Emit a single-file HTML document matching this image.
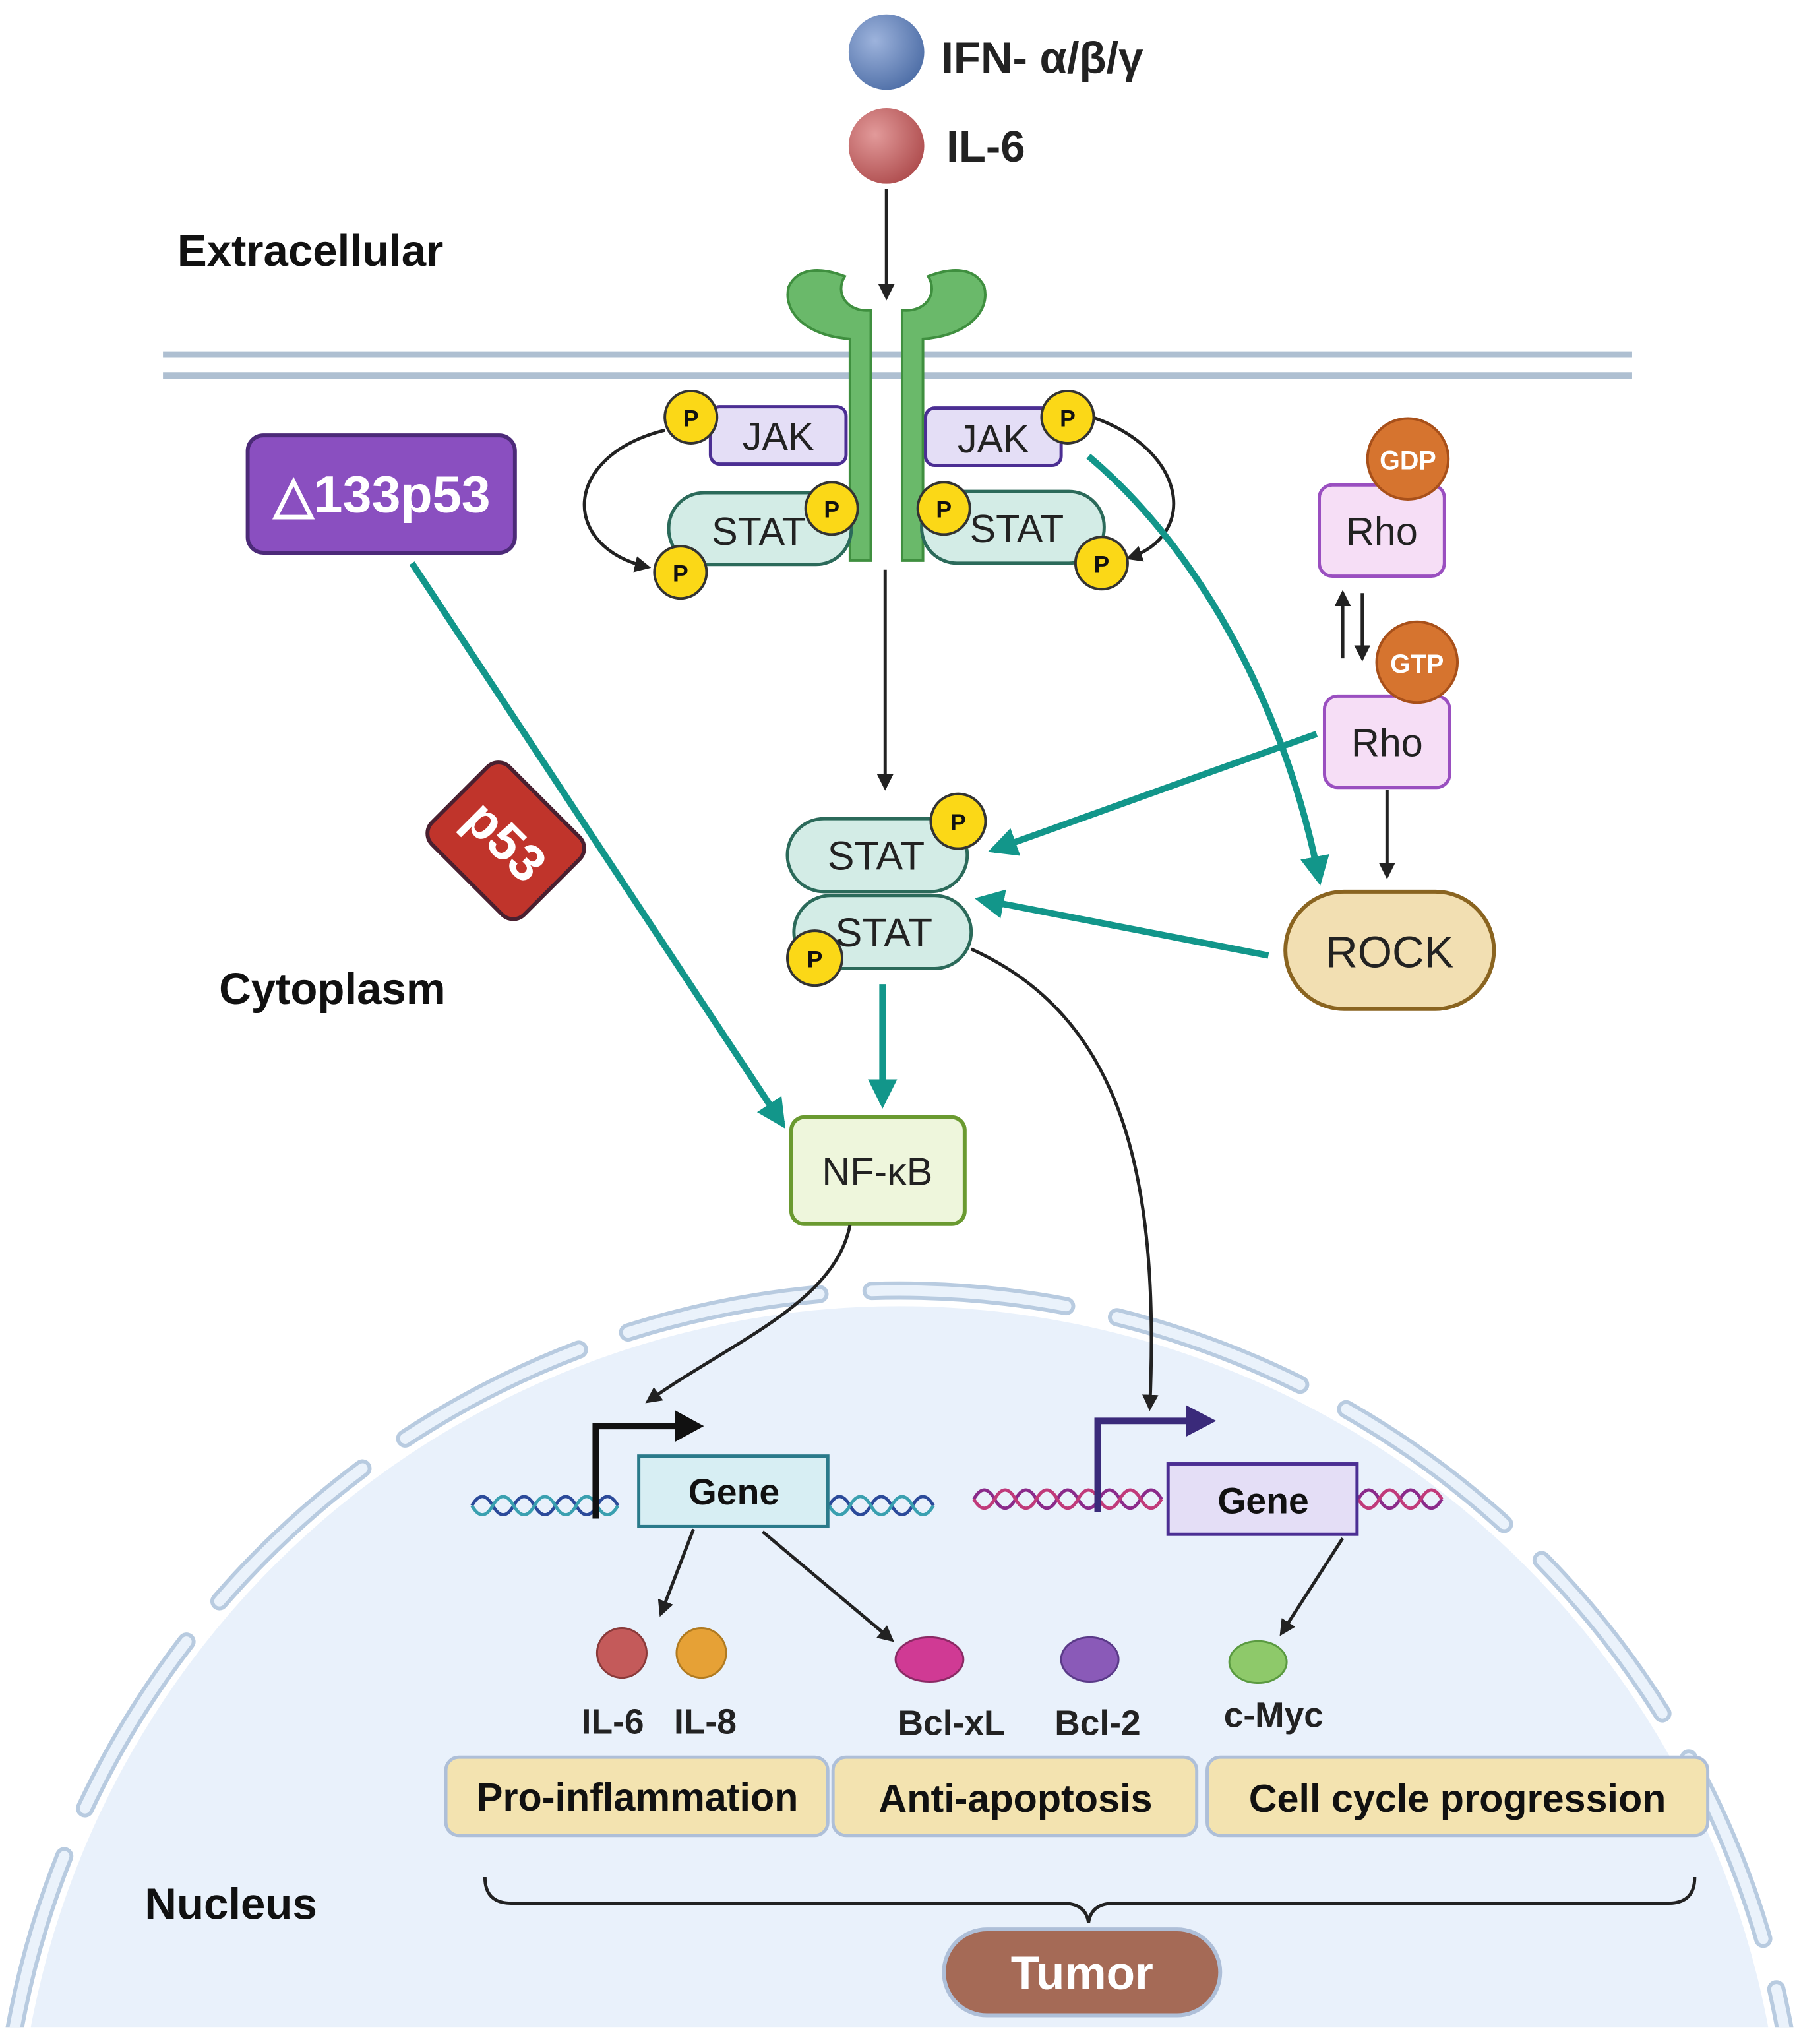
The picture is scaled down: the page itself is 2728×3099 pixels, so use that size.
<!DOCTYPE html>
<html><head><style>html,body{margin:0;padding:0;background:#fff;width:2728px;height:3099px;overflow:hidden}svg{display:block}text{font-family:"Liberation Sans",sans-serif}</style></head>
<body>
<svg width="2728" height="3099" viewBox="0 0 1380 1568" preserveAspectRatio="none" xmlns="http://www.w3.org/2000/svg">
<defs>
<marker id="ab" viewBox="0 0 10 10" refX="8" refY="5" markerWidth="5" markerHeight="5" orient="auto"><path d="M0,0L10,5L0,10z" fill="#222"/></marker>
<marker id="at" viewBox="0 0 10 10" refX="8" refY="5" markerWidth="4.5" markerHeight="4.5" orient="auto"><path d="M0,0L10,5L0,10z" fill="#12968a"/></marker>
<radialGradient id="gb" cx="0.35" cy="0.35" r="0.7"><stop offset="0" stop-color="#9db3dc"/><stop offset="1" stop-color="#5070a8"/></radialGradient>
<radialGradient id="gr" cx="0.35" cy="0.35" r="0.7"><stop offset="0" stop-color="#e29a9a"/><stop offset="1" stop-color="#b04f50"/></radialGradient>
<clipPath id="cp"><rect x="0" y="0" width="1380" height="1555"/></clipPath>
</defs>
<rect width="1380" height="1568" fill="#fff"/>
<g clip-path="url(#cp)">
<circle cx="690" cy="1680" r="678" fill="#e9f1fb"/>
<circle cx="690" cy="1680" r="690" fill="none" stroke="#b8cbe0" stroke-width="14" stroke-dasharray="150 40" stroke-linecap="round"/>
<circle cx="690" cy="1680" r="690" fill="none" stroke="#eaf2fb" stroke-width="8" stroke-dasharray="150 40" stroke-linecap="round"/>
</g>
<line x1="125" y1="272" x2="1252" y2="272" stroke="#aebfd1" stroke-width="5"/>
<line x1="125" y1="288" x2="1252" y2="288" stroke="#aebfd1" stroke-width="5"/>
<circle cx="680" cy="40" r="29" fill="url(#gb)"/>
<circle cx="680" cy="112" r="29" fill="url(#gr)"/>
<text x="722" y="56" font-size="34" font-weight="bold" fill="#222">IFN- α/β/γ</text>
<text x="726" y="124" font-size="34" font-weight="bold" fill="#222">IL-6</text>
<text x="136" y="204" font-size="34" font-weight="bold" fill="#111">Extracellular</text>
<text x="168" y="770" font-size="34" font-weight="bold" fill="#111">Cytoplasm</text>
<text x="111" y="1472" font-size="34" font-weight="bold" fill="#111">Nucleus</text>
<line x1="680" y1="145" x2="680" y2="228" stroke="#222" stroke-width="2.5" marker-end="url(#ab)"/>
<path d="M652,430 V260 C620,258 600,240 605,220 C612,205 630,205 648,212 C640,225 650,240 668,238 V430 Z" fill="#6ab96a" stroke="#3f8f3f" stroke-width="2"/>
<path d="M708,430 V260 C740,258 760,240 755,220 C748,205 730,205 712,212 C720,225 710,240 692,238 V430 Z" fill="#6ab96a" stroke="#3f8f3f" stroke-width="2"/>
<rect x="545" y="312" width="104" height="44" rx="7" fill="#e4def6" stroke="#4b2e93" stroke-width="2.5"/>
<text x="597" y="345" font-size="30" text-anchor="middle" fill="#222">JAK</text>
<rect x="513" y="378" width="140" height="55" rx="27" fill="#d3ece6" stroke="#2b6a5a" stroke-width="2.5"/>
<text x="582" y="418" font-size="30" text-anchor="middle" fill="#222">STAT</text>
<rect x="710" y="313" width="104" height="44" rx="7" fill="#e4def6" stroke="#4b2e93" stroke-width="2.5"/>
<text x="762" y="347" font-size="30" text-anchor="middle" fill="#222">JAK</text>
<rect x="707" y="377" width="140" height="55" rx="27" fill="#d3ece6" stroke="#2b6a5a" stroke-width="2.5"/>
<text x="780" y="416" font-size="30" text-anchor="middle" fill="#222">STAT</text>
<path d="M510,330 C430,350 430,420 497,435" fill="none" stroke="#222" stroke-width="2.5" marker-end="url(#ab)"/>
<path d="M838,320 C910,345 920,410 866,428" fill="none" stroke="#222" stroke-width="2.5" marker-end="url(#ab)"/>
<g font-size="18" font-weight="bold" text-anchor="middle" fill="#111">
<circle cx="530" cy="320" r="20" fill="#fbd817" stroke="#333" stroke-width="2"/><text x="530" y="327">P</text>
<circle cx="638" cy="390" r="20" fill="#fbd817" stroke="#333" stroke-width="2"/><text x="638" y="397">P</text>
<circle cx="522" cy="439" r="20" fill="#fbd817" stroke="#333" stroke-width="2"/><text x="522" y="446">P</text>
<circle cx="819" cy="320" r="20" fill="#fbd817" stroke="#333" stroke-width="2"/><text x="819" y="327">P</text>
<circle cx="724" cy="390" r="20" fill="#fbd817" stroke="#333" stroke-width="2"/><text x="724" y="397">P</text>
<circle cx="845" cy="432" r="20" fill="#fbd817" stroke="#333" stroke-width="2"/><text x="845" y="439">P</text>
</g>
<line x1="679" y1="437" x2="679" y2="604" stroke="#222" stroke-width="2.5" marker-end="url(#ab)"/>
<rect x="190" y="334" width="205" height="90" rx="12" fill="#8a4fc0" stroke="#4c2a78" stroke-width="3"/>
<text x="293" y="393" font-size="40" font-weight="bold" text-anchor="middle" fill="#fff">△133p53</text>
<g transform="translate(388,645) rotate(45)"><rect x="-50" y="-42" width="100" height="84" rx="12" fill="#c0342b" stroke="#4a2030" stroke-width="3"/><text x="0" y="14" font-size="40" font-weight="bold" text-anchor="middle" fill="#fff">p53</text></g>
<rect x="1012" y="372" width="96" height="70" rx="10" fill="#f6def6" stroke="#9a4fc0" stroke-width="2.5"/>
<text x="1060" y="418" font-size="30" text-anchor="middle" fill="#222">Rho</text>
<circle cx="1080" cy="352" r="31" fill="#d6742f" stroke="#a8501a" stroke-width="2"/>
<text x="1080" y="360" font-size="20" font-weight="bold" text-anchor="middle" fill="#fff">GDP</text>
<rect x="1016" y="534" width="96" height="70" rx="10" fill="#f6def6" stroke="#9a4fc0" stroke-width="2.5"/>
<text x="1064" y="580" font-size="30" text-anchor="middle" fill="#222">Rho</text>
<circle cx="1087" cy="508" r="31" fill="#d6742f" stroke="#a8501a" stroke-width="2"/>
<text x="1087" y="516" font-size="20" font-weight="bold" text-anchor="middle" fill="#fff">GTP</text>
<line x1="1030" y1="505" x2="1030" y2="455" stroke="#222" stroke-width="2.5" marker-end="url(#ab)"/>
<line x1="1045" y1="455" x2="1045" y2="505" stroke="#222" stroke-width="2.5" marker-end="url(#ab)"/>
<line x1="1064" y1="606" x2="1064" y2="672" stroke="#222" stroke-width="2.5" marker-end="url(#ab)"/>
<rect x="986" y="684" width="160" height="90" rx="45" fill="#f2dfb2" stroke="#8a6420" stroke-width="3"/>
<text x="1066" y="742" font-size="34" text-anchor="middle" fill="#222">ROCK</text>
<rect x="604" y="628" width="138" height="56" rx="28" fill="#d3ece6" stroke="#2b6a5a" stroke-width="2.5"/>
<text x="672" y="667" font-size="31" text-anchor="middle" fill="#222">STAT</text>
<rect x="609" y="687" width="136" height="56" rx="28" fill="#d3ece6" stroke="#2b6a5a" stroke-width="2.5"/>
<text x="678" y="726" font-size="31" text-anchor="middle" fill="#222">STAT</text>
<g font-size="18" font-weight="bold" text-anchor="middle" fill="#111">
<circle cx="735" cy="630" r="21" fill="#fbd817" stroke="#333" stroke-width="2"/><text x="735" y="637">P</text>
<circle cx="625" cy="735" r="21" fill="#fbd817" stroke="#333" stroke-width="2"/><text x="625" y="742">P</text>
</g>
<g stroke="#12968a" stroke-width="5" fill="none">
<path d="M835,350 C930,430 990,560 1012,675" marker-end="url(#at)"/>
<line x1="1010" y1="563" x2="762" y2="652" marker-end="url(#at)"/>
<line x1="973" y1="733" x2="752" y2="690" marker-end="url(#at)"/>
<line x1="677" y1="755" x2="677" y2="846" marker-end="url(#at)"/>
<line x1="316" y1="432" x2="600" y2="862" marker-end="url(#at)"/>
</g>
<rect x="607" y="857" width="133" height="82" rx="10" fill="#eef6dc" stroke="#6a9a30" stroke-width="3"/>
<text x="673" y="909" font-size="30" text-anchor="middle" fill="#222">NF-κB</text>
<path d="M745,728 C860,780 890,900 882,1080" fill="none" stroke="#222" stroke-width="2.5" marker-end="url(#ab)"/>
<path d="M652,940 C640,1000 560,1030 497,1075" fill="none" stroke="#222" stroke-width="2.5" marker-end="url(#ab)"/>
<path d="M362,1155 q8,-14 16,0 t16,0 t16,0 t16,0 t16,0 t16,0 t16,0 M636,1155 q8,-14 16,0 t16,0 t16,0 t16,0 t16,0" fill="none" stroke="#2b4a9a" stroke-width="2.5"/>
<path d="M362,1155 q8,14 16,0 t16,0 t16,0 t16,0 t16,0 t16,0 t16,0 M636,1155 q8,14 16,0 t16,0 t16,0 t16,0 t16,0" fill="none" stroke="#3aa0b0" stroke-width="2.5"/>
<path d="M747,1150 q8,-14 16,0 t16,0 t16,0 t16,0 t16,0 t16,0 t16,0 t16,0 t16,0 M1042,1150 q8,-14 16,0 t16,0 t16,0 t16,0" fill="none" stroke="#8a2a8a" stroke-width="2.5"/>
<path d="M747,1150 q8,14 16,0 t16,0 t16,0 t16,0 t16,0 t16,0 t16,0 t16,0 t16,0 M1042,1150 q8,14 16,0 t16,0 t16,0 t16,0" fill="none" stroke="#c03a7a" stroke-width="2.5"/>
<path d="M457,1165 V1094 H520" fill="none" stroke="#111" stroke-width="5"/><path d="M518,1082 L540,1094 L518,1106z" fill="#111"/>
<path d="M842,1160 V1090 H912" fill="none" stroke="#3a2a7a" stroke-width="5"/><path d="M910,1078 L933,1090 L910,1102z" fill="#3a2a7a"/>
<rect x="490" y="1117" width="145" height="54" fill="#d7eef3" stroke="#2a7a8a" stroke-width="2.5"/>
<text x="563" y="1154" font-size="28" font-weight="bold" text-anchor="middle" fill="#111">Gene</text>
<rect x="896" y="1123" width="145" height="54" fill="#e4def6" stroke="#4b2e93" stroke-width="2.5"/>
<text x="969" y="1161" font-size="28" font-weight="bold" text-anchor="middle" fill="#111">Gene</text>
<line x1="532" y1="1173" x2="507" y2="1238" stroke="#222" stroke-width="2.5" marker-end="url(#ab)"/>
<line x1="585" y1="1175" x2="684" y2="1258" stroke="#222" stroke-width="2.5" marker-end="url(#ab)"/>
<line x1="1030" y1="1180" x2="983" y2="1253" stroke="#222" stroke-width="2.5" marker-end="url(#ab)"/>
<circle cx="477" cy="1268" r="19" fill="#c45a5a" stroke="#8a3a3a" stroke-width="1.5"/>
<circle cx="538" cy="1268" r="19" fill="#e6a136" stroke="#b07a20" stroke-width="1.5"/>
<ellipse cx="713" cy="1273" rx="26" ry="17" fill="#d03a94" stroke="#8a2a64" stroke-width="1.5"/>
<ellipse cx="836" cy="1273" rx="22" ry="17" fill="#8a5ab8" stroke="#5a3a88" stroke-width="1.5"/>
<ellipse cx="965" cy="1275" rx="22" ry="16" fill="#8ec96a" stroke="#5a9a40" stroke-width="1.5"/>
<g font-size="27" font-weight="bold" fill="#222" text-anchor="middle">
<text x="470" y="1330">IL-6</text><text x="541" y="1330">IL-8</text>
<text x="730" y="1331">Bcl-xL</text><text x="842" y="1331">Bcl-2</text><text x="977" y="1325">c-Myc</text>
</g>
<g stroke="#aebfd8" stroke-width="2.5" fill="#f3e3b0">
<rect x="342" y="1348" width="293" height="60" rx="10"/>
<rect x="639" y="1348" width="279" height="60" rx="10"/>
<rect x="926" y="1348" width="384" height="60" rx="10"/>
</g>
<g font-size="30" font-weight="bold" fill="#111" text-anchor="middle">
<text x="489" y="1389">Pro-inflammation</text><text x="779" y="1390">Anti-apoptosis</text><text x="1118" y="1390">Cell cycle progression</text>
</g>
<path d="M372,1440 q0,20 20,20 H815 q18,0 20,15 q2,-15 20,-15 H1280 q20,0 20,-20" fill="none" stroke="#222" stroke-width="2.5"/>
<rect x="724" y="1480" width="212" height="66" rx="33" fill="#a56a56" stroke="#aebfd8" stroke-width="3"/>
<text x="830" y="1526" font-size="36" font-weight="bold" text-anchor="middle" fill="#fff">Tumor</text>
</svg>
</body></html>
